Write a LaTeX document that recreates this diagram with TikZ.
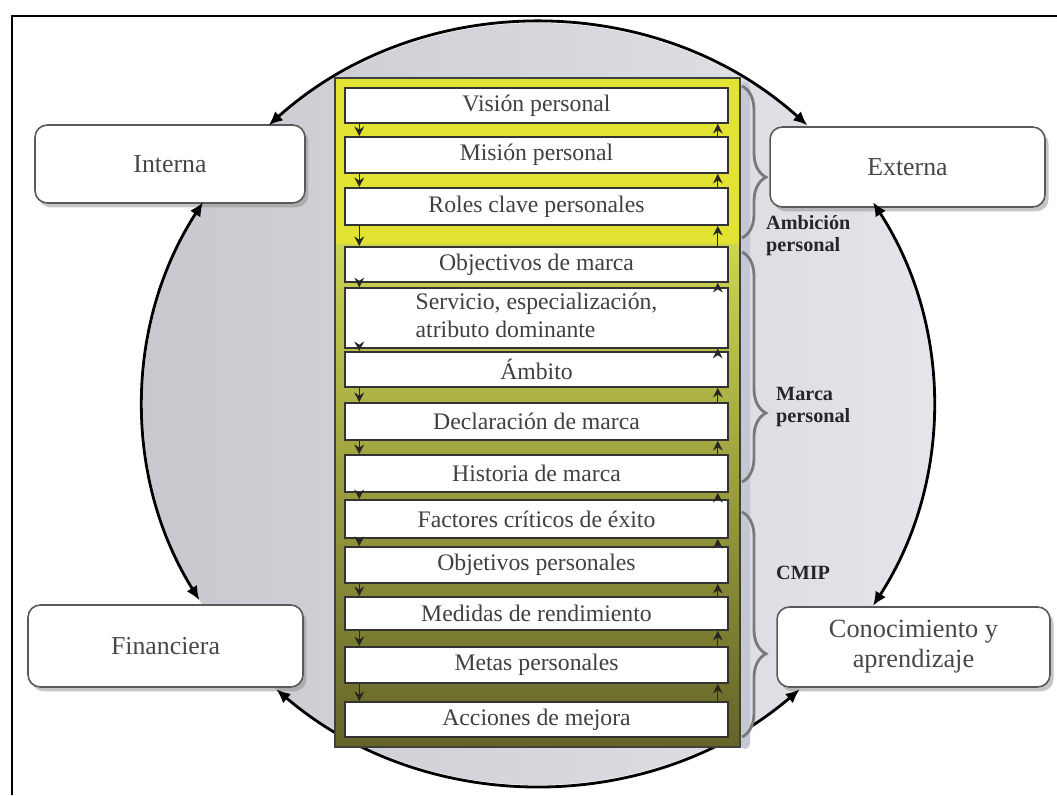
\documentclass[tikz,border=0pt]{standalone}
\usepackage{fontspec}
\setmainfont{Liberation Serif}
\usetikzlibrary{arrows.meta, calc, shadows, decorations.pathreplacing}

\definecolor{ringL}{RGB}{200,201,207}
\definecolor{ringR}{RGB}{228,229,234}
\definecolor{colYel}{RGB}{226,226,50}
\definecolor{colTop}{RGB}{204,212,82}
\definecolor{colMid}{RGB}{150,162,54}
\definecolor{colBot}{RGB}{100,100,40}
\definecolor{colShade}{RGB}{198,199,212}

\begin{document}
\begin{tikzpicture}[x=0.02cm, y=0.02cm,
    row/.style={draw=black!80, line width=0.9pt, fill=white, minimum width=7.66cm,
      inner sep=1pt, text=black!75, font=\fontsize{13.5}{16}\selectfont, align=center},
    side/.style={draw=gray!70!black, line width=0.9pt, rounded corners=7pt, fill=white,
      text=black!72, font=\fontsize{14.7}{19}\selectfont, align=center,
      drop shadow={shadow xshift=2pt, shadow yshift=-2.5pt, fill=black!45}},
    ring/.style={line width=1.6pt, arrows={Latex[length=8pt,width=7pt]-Latex[length=8pt,width=7pt]}},
    flow/.style={line width=0.8pt, black!85, -{Stealth[length=5.5pt,width=5.5pt]}},
    grp/.style={decorate, decoration={brace, amplitude=0.48cm}, draw=gray!95!black, line width=1.6pt},
    grplabel/.style={anchor=west, align=left, text=black!85, font=\bfseries\fontsize{11.5}{12.5}\selectfont}]
  \useasboundingbox (0,0) rectangle (1057,795);
  % frame
  \draw[line width=1.6pt] (12,0) -- (12,779) -- (1057,779);
  % grey ring
  \coordinate (ctr) at (538,391);
  \shade[left color=ringL, right color=ringR] (ctr) ellipse [x radius=395, y radius=381];
  % the four perspectives
  \node[side, minimum width=5.4cm, minimum height=1.56cm] (interna) at (170,631) {Interna};
  \node[side, minimum width=5.5cm, minimum height=1.6cm] (externa) at (907.5,628) {Externa};
  \node[side, minimum width=5.5cm, minimum height=1.64cm] (financiera) at (165.5,149) {Financiera};
  \node[side, minimum width=5.46cm, minimum height=1.6cm, font=\fontsize{15}{17}\selectfont] (conoc) at (913.5,148) {Conocimiento y\\aprendizaje};
  % arcs between the perspectives
  \coordinate (ext-t) at ($(ctr)+(47:395 and 381)$);
  \coordinate (int-b) at ($(ctr)+(148:395 and 381)$);
  \coordinate (fin-b) at ($(ctr)+(228.5:395 and 381)$);
  \coordinate (con-t) at ($(ctr)+(-32:395 and 381)$);
  \draw[ring] (ext-t) arc[start angle=47, end angle=133, x radius=395, y radius=381];
  \draw[ring] (int-b) arc[start angle=148, end angle=211, x radius=395, y radius=381];
  \draw[ring] (fin-b) arc[start angle=228.5, end angle=311.5, x radius=395, y radius=381];
  \draw[ring] (con-t) arc[start angle=-32, end angle=32, x radius=395, y radius=381];
  % column
  \fill[colShade, rounded corners=3pt] (740,46) rectangle (750,713);
  \fill[colYel] (335,550) rectangle (740,717);
  \shade[top color=colTop, middle color=colMid, bottom color=colBot] (335,48) rectangle (740,550);
  \draw[line width=1pt, black!75] (335,48) rectangle (740,717);
  \foreach \i/\yc/\h/\txt in {
      1/689.5/35/Visión personal,
      2/640/36/Misión personal,
      3/588.5/37/Roles clave personales,
      4/530.5/35/Objectivos de marca,
      5/477/54/{\begin{tabular}{@{}l@{}}Servicio, especialización,\\atributo dominante\end{tabular}},
      6/425.5/35/Ámbito,
      7/373.5/37/Declaración de marca,
      8/321.5/37/Historia de marca,
      9/276/38/Factores críticos de éxito,
      10/230/36/Objetivos personales,
      11/181.5/33/Medidas de rendimiento,
      12/130/36/Metas personales,
      13/75.5/35/Acciones de mejora}
    \node[row, minimum height=\h*0.02cm] (r\i) at (536.5,\yc) {\txt};
  \foreach \i [evaluate=\i as \j using int(\i+1)] in {1,...,12} {
    \draw[flow] ([xshift=0.3cm]r\i.south west) -- ([xshift=0.3cm]r\i.south west |- r\j.north);
    \draw[flow] ([xshift=-0.22cm]r\j.north east) -- ([xshift=-0.22cm]r\j.north east |- r\i.south);
  }
  % groups
  \draw[grp, decoration={aspect=0.6}] (742,709) -- (742,557);
  \draw[grp, decoration={aspect=0.7}] (742,543) -- (742,313);
  \draw[grp, decoration={aspect=0.63}] (742,283) -- (742,58);
  \node[grplabel] (ambicion) at (760,559) {Ambición\\personal};
  \node[grplabel] (marca) at (770,388) {Marca\\personal};
  \node[grplabel] (cmip) at (770,222) {CMIP};
\end{tikzpicture}
\end{document}
